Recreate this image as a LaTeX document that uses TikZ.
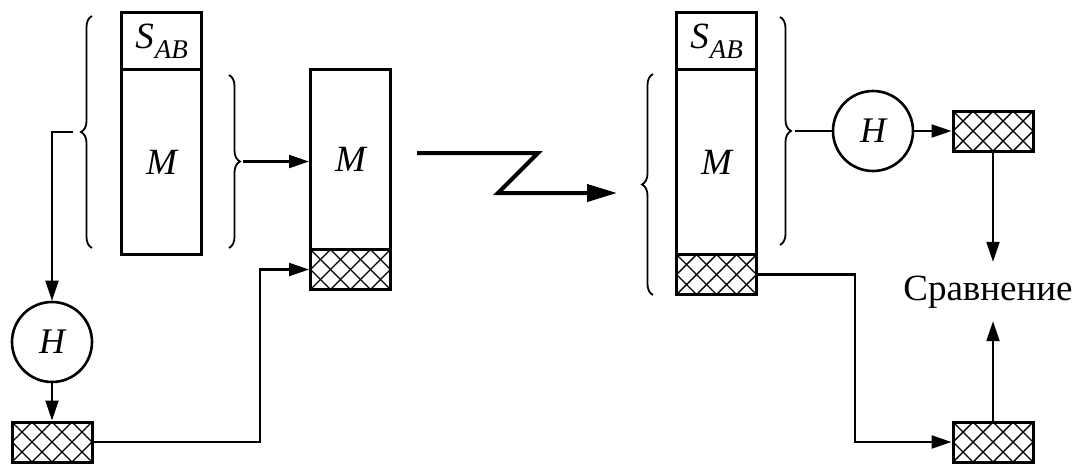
\documentclass[tikz,border=0pt]{standalone}
\usepackage{fontspec}
\setmainfont{Liberation Serif}
\newfontfamily\tmsfont{Liberation Serif}
\usetikzlibrary{arrows.meta,decorations.pathreplacing,calc}

% signature label: S with a lowered AB index
\newcommand\sigAB{S\kern1pt\raisebox{-10pt}{\fontsize{27}{28}\selectfont\itshape AB}}

\begin{document}
\begin{tikzpicture}[x=1pt,y=-1pt,
  cell/.style={draw, line width=3pt, minimum width=80pt, inner sep=0pt,
    font=\tmsfont\fontsize{37}{40}\selectfont\itshape},
  hatched/.style={cell, minimum height=40pt, path picture={
    \foreach \k in {-3,...,7}{
      \draw[line width=1.4pt] ([xshift=\k*20pt]path picture bounding box.south west) -- ++(50pt,50pt);
      \draw[line width=1.4pt] ([xshift=\k*20pt]path picture bounding box.south west) -- ++(-50pt,50pt);
    }}},
  hashfn/.style={draw, circle, line width=2.6pt, minimum size=80pt, inner sep=0pt,
    font=\tmsfont\fontsize{36}{40}\selectfont\itshape},
  conn/.style={line width=2.2pt},
  arr/.style={conn, -{Triangle[length=20pt,width=13pt]}},
  brc/.style={line width=1.8pt, decorate, decoration={brace, amplitude=11pt}},
]
\useasboundingbox (0,0) rectangle (1072,464);

% sender: signed message
\node[cell, minimum height=57pt, anchor=north west] (sab1) at (120,11) {\sigAB};
\node[cell, minimum height=185pt, anchor=north west] (m1) at (120,68) {M};

% transmitted message with attached digest
\node[cell, minimum height=180pt, anchor=north west] (m2) at (309,68) {M};
\node[hatched, anchor=north west] (x2) at (309,248) {};

% receiver
\node[cell, minimum height=57pt, anchor=north west] (sab3) at (675,11) {\sigAB};
\node[cell, minimum height=185pt, anchor=north west] (m3) at (675,68) {M};
\node[hatched, anchor=north west] (x3) at (675,253) {};

% hash functions and digests
\node[hashfn] (h1) at (52,342) {H};
\node[hatched] (hx1) at (52,442) {};
\node[hashfn] (h2) at (873,131) {H};
\node[hatched] (hx4) at (993,131) {};
\node[hatched] (hx5) at (993,442) {};

\node[font=\tmsfont\fontsize{37}{40}\selectfont, inner xsep=0pt, inner ysep=13pt,
      text height=25pt, text depth=8pt, anchor=base] (cmp) at (988,300) {Сравнение};

% braces
\coordinate (b1s) at (92,248);  \coordinate (b1e) at (92,16);
\coordinate (b2s) at (229,75);  \coordinate (b2e) at (229,248);
\coordinate (b3s) at (653,295); \coordinate (b3e) at (653,74);
\coordinate (b4s) at (780,17);  \coordinate (b4e) at (780,245);
\draw[brc] (b1s) -- (b1e);
\draw[brc] (b2s) -- (b2e);
\draw[brc] (b3s) -- (b3e);
\draw[brc] (b4s) -- (b4e);
\coordinate (t1) at ($(b1s)!0.5!(b1e)+(-11,0)$);
\coordinate (t2) at ($(b2s)!0.5!(b2e)+(11,0)$);
\coordinate (t4) at ($(b4s)!0.5!(b4e)+(11,0)$);

% connectors
\coordinate (j1) at (260,442);
\coordinate (j2) at (855,273);
\draw[arr] ([xshift=-8pt]t1) -| (h1);
\draw[arr] (h1) -- (hx1);
\draw[arr] (hx1.east) -| (j1 |- x2.west) -- (x2.west);
\draw[arr] ([xshift=3pt]t2) -- (t2 -| m2.west);

% transmission channel
\coordinate (z1) at (417,153);
\coordinate (z2) at (538,153);
\coordinate (z3) at (498,193);
\coordinate (z4) at (617,193);
\draw[line width=4pt, line join=miter, -{Triangle[length=30pt,width=17pt]}]
  (z1) -- (z2) -- (z3) -- (z4);

\draw[conn] ([xshift=4pt]t4) -- (h2);
\draw[arr] (h2) -- (hx4);
\draw[arr] (hx4) -- (hx4 |- cmp.north);
\draw[arr] (hx5) -- (hx5 |- cmp.south);
\draw[arr] (x3.east) -| (j2 |- hx5.west) -- (hx5.west);
\end{tikzpicture}
\end{document}
